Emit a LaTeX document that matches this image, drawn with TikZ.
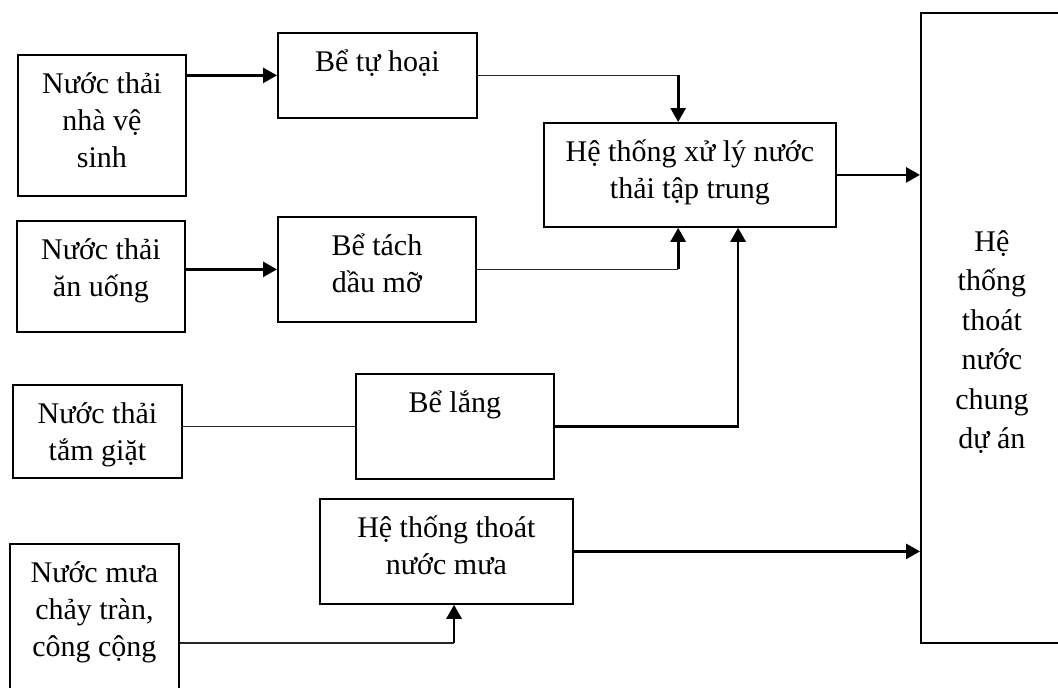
\documentclass[tikz,border=0pt]{standalone}
\usepackage{fontspec}
\setmainfont{Liberation Serif}
\usetikzlibrary{positioning}
\usetikzlibrary{calc}
\usetikzlibrary{arrows.meta}
\newcommand{\bodyfont}{\fontsize{30}{37}\selectfont}
\newcommand{\firststrut}{\rule{0pt}{30pt}}
\tikzset{
    box/.style={draw, line width=1.8pt, inner sep=0pt, anchor=north west},
    txt/.style={anchor=north, align=center, inner sep=0pt, font=\bodyfont},
    flow/.style={line width=2.8pt, -{Triangle[length=14pt,width=15pt]}},
    feed/.style={line width=1.2pt, draw=black!85},
}

\begin{document}
\begin{tikzpicture}[x=1pt, y=-1pt]
    \useasboundingbox (0,0) rectangle (1058,688);
    % nguon nuoc
    \node[box, minimum width=168pt, minimum height=141pt] (nvs) at (17,54) {};
    \node[box, minimum width=168pt, minimum height=111pt] (anuong) at (16,220) {};
    \node[box, minimum width=169pt, minimum height=93pt] (tamgiat) at (12,384) {};
    \node[box, minimum width=169pt, minimum height=198pt] (nuocmua) at (9,543) {};
    % cong trinh xu ly
    \node[box, minimum width=199pt, minimum height=85pt] (tuhoai) at (277,32) {};
    \node[box, minimum width=198pt, minimum height=105pt] (tachdau) at (277,216) {};
    \node[box, minimum width=198pt, minimum height=105pt] (lang) at (355,373) {};
    \node[box, minimum width=253pt, minimum height=105pt] (thoatmua) at (319,498) {};
    \node[box, minimum width=292pt, minimum height=104pt] (xuly) at (543,122) {};
    \node[box, minimum width=142pt, minimum height=630pt] (chung) at (920,12) {};
    % chu
    \node[txt] at ([yshift=-9pt]nvs.north) {\firststrut Nước thải\\nhà vệ\\sinh};
    \node[txt] at ([yshift=-9pt]anuong.north) {\firststrut Nước thải\\ăn uống};
    \node[txt] at ([yshift=-9pt]tamgiat.north) {\firststrut Nước thải\\tắm giặt};
    \node[txt] at ([yshift=-9pt]nuocmua.north) {\firststrut Nước mưa\\chảy tràn,\\công cộng};
    \node[txt] at ([yshift=-9pt]tuhoai.north) {\firststrut Bể tự hoại};
    \node[txt] at ([yshift=-9pt]tachdau.north) {\firststrut Bể tách\\dầu mỡ};
    \node[txt] at ([yshift=-9pt]lang.north) {\firststrut Bể lắng};
    \node[txt] at ([yshift=-9pt]thoatmua.north) {\firststrut Hệ thống thoát\\nước mưa};
    \node[txt] at ([yshift=-9pt]xuly.north) {\firststrut Hệ thống xử lý nước\\thải tập trung};
    \node[txt, font={\fontsize{30}{39.5}\selectfont}] at ([yshift=-209pt]chung.north)
        {\firststrut Hệ\\thống\\thoát\\nước\\chung\\dự án};
    % dau vao
    \coordinate (in1) at ($(xuly.north west)!0.46!(xuly.north east)$);
    \coordinate (in2) at ($(xuly.south west)!0.46!(xuly.south east)$);
    \coordinate (in3) at ($(xuly.south west)!0.664!(xuly.south east)$);
    \coordinate (in4) at ($(thoatmua.south west)!0.53!(thoatmua.south east)$);
    % duong noi
    \draw[flow] (nvs.east |- tuhoai.west) -- (tuhoai.west);
    \draw[feed] (tuhoai.east) -- (tuhoai.east -| in1);
    \draw[flow] (tuhoai.east -| in1) -- (in1);
    \draw[flow] (anuong.east |- tachdau.west) -- (tachdau.west);
    \draw[feed] (tachdau.east) -- (tachdau.east -| in2);
    \draw[flow] (tachdau.east -| in2) -- (in2);
    \draw[feed] (tamgiat.east |- lang.west) -- (lang.west);
    \draw[flow] (lang.east) -| (in3);
    \draw[flow] (xuly.east) -- (xuly.east -| chung.west);
    \draw[flow] (thoatmua.east) -- (thoatmua.east -| chung.west);
    \draw[feed] (nuocmua.east) -- (nuocmua.east -| in4);
    \draw[flow] (nuocmua.east -| in4) -- (in4);
\end{tikzpicture}
\end{document}
